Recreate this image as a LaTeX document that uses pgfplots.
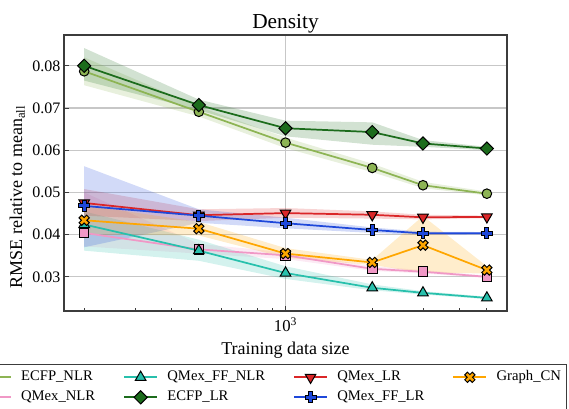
\documentclass[border=0pt]{standalone}
\usepackage{fontspec}
\setmainfont{Liberation Serif}
\usepackage{pgfplots}
\usepackage{pgfplotstable}
\pgfplotsset{compat=1.18}

\definecolor{cEN}{RGB}{141,180,84}
\definecolor{cQN}{RGB}{240,152,198}
\definecolor{cFN}{RGB}{40,192,172}
\definecolor{cEL}{RGB}{28,108,28}
\definecolor{cQL}{RGB}{218,38,40}
\definecolor{cFL}{RGB}{30,72,218}
\definecolor{cGC}{RGB}{255,166,0}
\definecolor{spine}{RGB}{60,60,60}

\pgfdeclareplotmark{Pplus}{%
  \pgfpathmoveto{\pgfqpoint{-0.36\pgfplotmarksize}{\pgfplotmarksize}}%
  \pgfpathlineto{\pgfqpoint{0.36\pgfplotmarksize}{\pgfplotmarksize}}%
  \pgfpathlineto{\pgfqpoint{0.36\pgfplotmarksize}{0.36\pgfplotmarksize}}%
  \pgfpathlineto{\pgfqpoint{\pgfplotmarksize}{0.36\pgfplotmarksize}}%
  \pgfpathlineto{\pgfqpoint{\pgfplotmarksize}{-0.36\pgfplotmarksize}}%
  \pgfpathlineto{\pgfqpoint{0.36\pgfplotmarksize}{-0.36\pgfplotmarksize}}%
  \pgfpathlineto{\pgfqpoint{0.36\pgfplotmarksize}{-\pgfplotmarksize}}%
  \pgfpathlineto{\pgfqpoint{-0.36\pgfplotmarksize}{-\pgfplotmarksize}}%
  \pgfpathlineto{\pgfqpoint{-0.36\pgfplotmarksize}{-0.36\pgfplotmarksize}}%
  \pgfpathlineto{\pgfqpoint{-\pgfplotmarksize}{-0.36\pgfplotmarksize}}%
  \pgfpathlineto{\pgfqpoint{-\pgfplotmarksize}{0.36\pgfplotmarksize}}%
  \pgfpathlineto{\pgfqpoint{-0.36\pgfplotmarksize}{0.36\pgfplotmarksize}}%
  \pgfpathclose\pgfusepathqfillstroke}
\pgfdeclareplotmark{Xcross}{%
  \pgftransformrotate{45}%
  \pgfpathmoveto{\pgfqpoint{-0.36\pgfplotmarksize}{\pgfplotmarksize}}%
  \pgfpathlineto{\pgfqpoint{0.36\pgfplotmarksize}{\pgfplotmarksize}}%
  \pgfpathlineto{\pgfqpoint{0.36\pgfplotmarksize}{0.36\pgfplotmarksize}}%
  \pgfpathlineto{\pgfqpoint{\pgfplotmarksize}{0.36\pgfplotmarksize}}%
  \pgfpathlineto{\pgfqpoint{\pgfplotmarksize}{-0.36\pgfplotmarksize}}%
  \pgfpathlineto{\pgfqpoint{0.36\pgfplotmarksize}{-0.36\pgfplotmarksize}}%
  \pgfpathlineto{\pgfqpoint{0.36\pgfplotmarksize}{-\pgfplotmarksize}}%
  \pgfpathlineto{\pgfqpoint{-0.36\pgfplotmarksize}{-\pgfplotmarksize}}%
  \pgfpathlineto{\pgfqpoint{-0.36\pgfplotmarksize}{-0.36\pgfplotmarksize}}%
  \pgfpathlineto{\pgfqpoint{-\pgfplotmarksize}{-0.36\pgfplotmarksize}}%
  \pgfpathlineto{\pgfqpoint{-\pgfplotmarksize}{0.36\pgfplotmarksize}}%
  \pgfpathlineto{\pgfqpoint{-0.36\pgfplotmarksize}{0.36\pgfplotmarksize}}%
  \pgfpathclose\pgfusepathqfillstroke}

\pgfplotsset{
  sEN/.style={line width=1.3pt, color=cEN, mark=*, mark size=3.6pt, mark options={draw=black, line width=0.75pt, solid, fill=cEN}},
  sQN/.style={line width=1.3pt, color=cQN, mark=square*, mark size=3.6pt, mark options={draw=black, line width=0.75pt, solid, fill=cQN}},
  sFN/.style={line width=1.3pt, color=cFN, mark=triangle*, mark size=4.6pt, mark options={draw=black, line width=0.75pt, solid, fill=cFN}},
  sEL/.style={line width=1.3pt, color=cEL, mark=square*, mark size=3.5pt, mark options={draw=black, line width=0.75pt, solid, fill=cEL, rotate=45}},
  sQL/.style={line width=1.3pt, color=cQL, mark=triangle*, mark size=4.6pt, mark options={draw=black, line width=0.75pt, solid, fill=cQL, rotate=180}},
  sFL/.style={line width=1.3pt, color=cFL, mark=Pplus, mark size=4.1pt, mark options={draw=black, line width=0.75pt, solid, fill=cFL}},
  sGC/.style={line width=1.3pt, color=cGC, mark=Xcross, mark size=4pt, mark options={draw=black, line width=0.75pt, solid, fill=cGC}},
  bnd/.style={draw=none, fill=#1, fill opacity=0.2, forget plot},
}

\pgfplotstableread{
x y
200 0.0787
500 0.0691
1000 0.0618
2000 0.0558
3000 0.0517
5000 0.0497
}\tEN
\pgfplotstableread{
x y
200 0.0404
500 0.0365
1000 0.0351
2000 0.0319
3000 0.0312
5000 0.0300
}\tQN
\pgfplotstableread{
x y
200 0.0424
500 0.0362
1000 0.0309
2000 0.0274
3000 0.0262
5000 0.0250
}\tFN
\pgfplotstableread{
x y
200 0.0800
500 0.0707
1000 0.0652
2000 0.0643
3000 0.0616
5000 0.0604
}\tEL
\pgfplotstableread{
x y
200 0.0475
500 0.0446
1000 0.0451
2000 0.0447
3000 0.0441
5000 0.0442
}\tQL
\pgfplotstableread{
x y
200 0.0468
500 0.0445
1000 0.0427
2000 0.0411
3000 0.0403
5000 0.0403
}\tFL
\pgfplotstableread{
x y
200 0.0434
500 0.0414
1000 0.0355
2000 0.0334
3000 0.0375
5000 0.0316
}\tGC

\begin{document}
\begin{tikzpicture}
\path[use as bounding box] (0,0) rectangle (426.75pt,306pt);
\clip (0,0) rectangle (426.75pt,306pt);
\begin{axis}[
  at={(48pt,72.75pt)}, anchor=south west,
  scale only axis, width=332.25pt, height=207pt,
  xmode=log, xmin=170.2, xmax=5873,
  ymin=0.0219, ymax=0.0873,
  scaled y ticks=false,
  xtick={1000}, xticklabels={10\textsuperscript{3}},
  xminorticks=true,
  minor xtick={200,300,400,500,600,700,800,900,2000,3000,4000,5000},
  ytick={0.03,0.04,0.05,0.06,0.07,0.08},
  yticklabels={0.03,0.04,0.05,0.06,0.07,0.08},
  tick pos=left, tick align=inside,
  major tick length=3.5pt, minor tick length=2.5pt,
  every tick/.style={draw=spine, line width=0.6pt},
  every minor tick/.style={draw=spine, line width=0.6pt},
  xmajorgrids, ymajorgrids,
  major grid style={draw=black!22, line width=0.8pt},
  axis line style={draw=spine, line width=0.9pt},
  xticklabel style={font=\fontsize{12.5}{14}\selectfont, anchor=base, yshift=-15.5pt},
  yticklabel style={font=\fontsize{12}{14}\selectfont, anchor=east, inner sep=0pt, xshift=-2.5pt},
  title={Density},
  every axis title/.style={at={(axis description cs:0.5,1.0243)}, anchor=base, font=\fontsize{16}{19}\selectfont},
  xlabel={Training data size},
  every axis x label/.style={at={(axis description cs:0.5,-0.158)}, anchor=base, font=\fontsize{13.5}{16}\selectfont},
  ylabel={RMSE relative to mean\textsubscript{all}},
  every axis y label/.style={at={(axis description cs:-0.0948,0.413)}, rotate=90, anchor=base, font=\fontsize{13.5}{16}\selectfont},
  legend columns=4,
  legend image code/.code={\draw[mark repeat=2,mark phase=2] plot coordinates {(0pt,0pt) (12.4pt,0pt) (24.8pt,0pt)};},
  legend style={at={(axis description cs:1.1354,-0.192)}, anchor=north east,
    draw=spine, line width=1pt, inner xsep=3pt, inner ysep=3pt,
    font=\fontsize{11}{13}\selectfont,
    nodes={inner sep=1pt, text height=8pt, text depth=3pt},
    row sep=2pt,
    /tikz/every odd column/.append style={column sep=6pt},
    /tikz/every even column/.append style={column sep=20pt},
    cells={anchor=west}},
]
% uncertainty bands (upper values left to right, then lower values right to left)
\addplot[bnd=cEN] coordinates {(200,0.0820) (500,0.0703) (1000,0.0630) (2000,0.0568) (3000,0.0525) (5000,0.0502)
  (5000,0.0493) (3000,0.0510) (2000,0.0548) (1000,0.0605) (500,0.0680) (200,0.0754)} -- cycle;
\addplot[bnd=cQN] coordinates {(200,0.0500) (500,0.0378) (1000,0.0358) (2000,0.0325) (3000,0.0316) (5000,0.0303)
  (5000,0.0297) (3000,0.0308) (2000,0.0314) (1000,0.0342) (500,0.0355) (200,0.0372)} -- cycle;
\addplot[bnd=cFN] coordinates {(200,0.0455) (500,0.0388) (1000,0.0325) (2000,0.0282) (3000,0.0266) (5000,0.0253)
  (5000,0.0247) (3000,0.0258) (2000,0.0268) (1000,0.0295) (500,0.0338) (200,0.0362)} -- cycle;
\addplot[bnd=cEL] coordinates {(200,0.0842) (500,0.0720) (1000,0.0670) (2000,0.0666) (3000,0.0624) (5000,0.0608)
  (5000,0.0600) (3000,0.0608) (2000,0.0613) (1000,0.0633) (500,0.0695) (200,0.0765)} -- cycle;
\addplot[bnd=cQL] coordinates {(200,0.0508) (500,0.0460) (1000,0.0463) (2000,0.0455) (3000,0.0447) (5000,0.0445)
  (5000,0.0439) (3000,0.0436) (2000,0.0438) (1000,0.0440) (500,0.0432) (200,0.0445)} -- cycle;
\addplot[bnd=cFL] coordinates {(200,0.0562) (500,0.0460) (1000,0.0440) (2000,0.0417) (3000,0.0407) (5000,0.0406)
  (5000,0.0400) (3000,0.0399) (2000,0.0404) (1000,0.0415) (500,0.0428) (200,0.0370)} -- cycle;
\addplot[bnd=cGC] coordinates {(200,0.0470) (500,0.0430) (1000,0.0368) (2000,0.0340) (3000,0.0444) (5000,0.0325)
  (5000,0.0308) (3000,0.0310) (2000,0.0328) (1000,0.0345) (500,0.0398) (200,0.0400)} -- cycle;

\addplot[sEN, forget plot] table[x=x,y=y]{\tEN};
\addplot[sQN, forget plot] table[x=x,y=y]{\tQN};
\addplot[sFN, forget plot] table[x=x,y=y]{\tFN};
\addplot[sEL, forget plot] table[x=x,y=y]{\tEL};
\addplot[sQL, forget plot] table[x=x,y=y]{\tQL};
\addplot[sFL, forget plot] table[x=x,y=y]{\tFL};
\addplot[sGC, forget plot] table[x=x,y=y]{\tGC};

\addlegendimage{sEN}\addlegendentry{ECFP\_NLR}
\addlegendimage{sFN}\addlegendentry{QMex\_FF\_NLR}
\addlegendimage{sQL}\addlegendentry{QMex\_LR}
\addlegendimage{sGC}\addlegendentry{Graph\_CN}
\addlegendimage{sQN}\addlegendentry{QMex\_NLR}
\addlegendimage{sEL}\addlegendentry{ECFP\_LR}
\addlegendimage{sFL}\addlegendentry{QMex\_FF\_LR}
\end{axis}
\end{tikzpicture}
\end{document}
